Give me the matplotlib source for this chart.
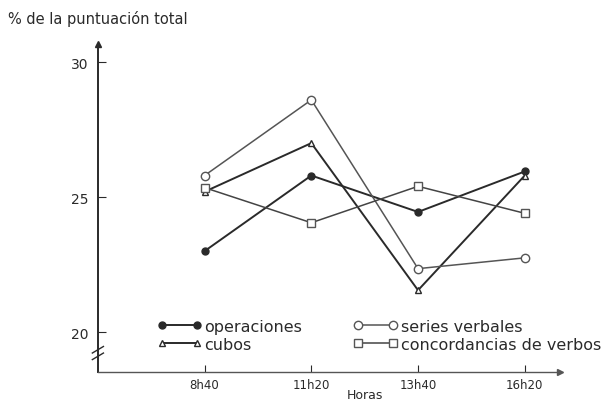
import matplotlib.pyplot as plt

plt.rcParams['font.family'] = ['DejaVu Sans']

# ===== DATOS =====
horas = ["8h40", "11h20", "13h40", "16h20"]
operaciones = [23.0, 25.8, 24.45, 25.95]
series_verbales = [25.8, 28.6, 22.35, 22.75]
cubos = [25.2, 27.0, 21.55, 25.8]
concordancias = [25.35, 24.05, 25.4, 24.4]
yticks = [20, 25, 30]

ink = "#2a2a2a"
x = list(range(len(horas)))

fig = plt.figure(figsize=(6.08, 4.02), dpi=100)
ax = fig.add_axes([0.161, 0.072, 0.760, 0.816])

l_op, = ax.plot(x, operaciones, color=ink, lw=1.4, marker="o", ms=5,
                mfc=ink, mec=ink, label="operaciones")
l_cu, = ax.plot(x, cubos, color=ink, lw=1.4, marker="^", ms=5,
                mfc="white", mec=ink, label="cubos")
l_se, = ax.plot(x, series_verbales, color="#555555", lw=1.1, marker="o", ms=6,
                mfc="white", mec="#555555", label="series verbales")
l_co, = ax.plot(x, concordancias, color="#444444", lw=1.1, marker="s", ms=5.5,
                mfc="white", mec="#555555", label="concordancias de verbos")

ax.set_xlim(-1.0, 3.33)
ax.set_ylim(18.52, 30.67)

ax.spines["top"].set_visible(False)
ax.spines["right"].set_visible(False)
ax.spines["left"].set_color(ink)
ax.spines["left"].set_linewidth(1.4)
ax.spines["bottom"].set_color("#555555")
ax.spines["bottom"].set_linewidth(1.0)

# flechas de los ejes
ax.plot(0, 1, "^", color=ink, ms=5, transform=ax.transAxes, clip_on=False)
ax.plot(1, 0, ">", color="#555555", ms=5, transform=ax.transAxes, clip_on=False)

# corte del eje y
for yb in [0.068, 0.048]:
    ax.plot([-0.012, 0.012], [yb - 0.01, yb + 0.01], color=ink, lw=1.0,
            transform=ax.transAxes, clip_on=False)

ax.set_yticks(yticks)
ax.set_yticklabels([str(v) for v in yticks])
ax.set_xticks(x)
ax.set_xticklabels(horas)
ax.tick_params(axis="y", direction="in", length=6, width=0.8, pad=7,
               labelsize=10, colors=ink)
ax.tick_params(axis="x", direction="in", length=5, width=0.8, pad=4,
               labelsize=8.5, colors=ink)

ax.set_xlabel("Horas", fontsize=9, color=ink)
ax.xaxis.set_label_coords(0.578, -0.05)

fig.text(0.013, 0.953, "% de la puntuación total", fontsize=10.5, color=ink,
         ha="left", va="center")

ax.legend(handles=[l_op, l_cu, l_se, l_co], ncol=2, numpoints=2,
          loc="upper left", bbox_to_anchor=(0.115, 0.182), frameon=False,
          fontsize=11.5, handlelength=2.8, columnspacing=3.2,
          handletextpad=0.15, labelspacing=0.2, borderaxespad=0)
for t in ax.get_legend().get_texts():
    t.set_color(ink)

plt.savefig("out.png", dpi=100)
plt.close()
